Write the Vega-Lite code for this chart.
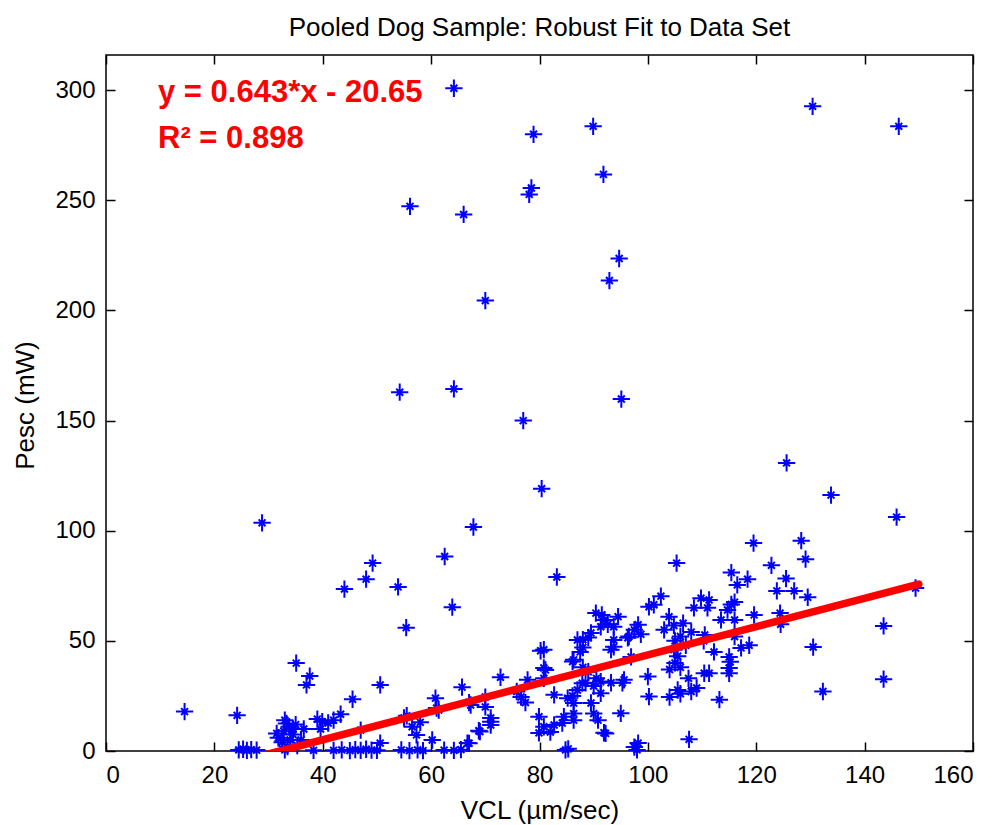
{
  "$schema": "https://vega.github.io/schema/vega-lite/v6.json",
  "width": 867,
  "height": 696,
  "autosize": "none",
  "padding": {"left": 106, "top": 55, "right": 25, "bottom": 74},
  "background": "white",
  "title": {"text": "Pooled Dog Sample: Robust Fit to Data Set", "font": "Liberation Sans", "fontSize": 26, "fontWeight": "normal", "color": "black", "baseline": "alphabetic", "offset": -8, "anchor": "middle"},
  "config": {
    "view": {"stroke": "black", "strokeWidth": 1.5},
    "axis": {"grid": false, "domain": false, "tickColor": "black", "tickSize": -9, "tickWidth": 1.5, "labelFont": "Liberation Sans", "labelFontSize": 24, "labelColor": "black", "titleFont": "Liberation Sans", "titleFontSize": 26, "titleFontWeight": "normal", "titleColor": "black"}
  },
  "datasets": {
    "pts": [
      {"VCL":14.5,"Pesc":17.9},{"VCL":24.2,"Pesc":16.2},{"VCL":28.8,"Pesc":103.6},{"VCL":64.2,"Pesc":300.9},{"VCL":78.9,"Pesc":280},{"VCL":89.9,"Pesc":283.6},{"VCL":130.4,"Pesc":292.7},{"VCL":146.3,"Pesc":283.6},{"VCL":91.8,"Pesc":261.8},{"VCL":78.5,"Pesc":255.6},{"VCL":78.1,"Pesc":252.7},{"VCL":56.1,"Pesc":247.3},{"VCL":66,"Pesc":243.6},{"VCL":94.7,"Pesc":223.6},{"VCL":92.9,"Pesc":213.6},{"VCL":70,"Pesc":204.5},{"VCL":54.2,"Pesc":162.9},{"VCL":64.2,"Pesc":164.4},{"VCL":95.1,"Pesc":159.8},{"VCL":77,"Pesc":150},{"VCL":80.4,"Pesc":119.1},{"VCL":67.8,"Pesc":101.7},{"VCL":125.6,"Pesc":130.8},{"VCL":133.8,"Pesc":116.2},{"VCL":145.9,"Pesc":106.2},{"VCL":119.5,"Pesc":94.4},{"VCL":128.3,"Pesc":95.5},{"VCL":62.5,"Pesc":88.3},{"VCL":83.2,"Pesc":79},{"VCL":105.3,"Pesc":85.3},{"VCL":44,"Pesc":73.5},{"VCL":48,"Pesc":78},{"VCL":49.2,"Pesc":85.3},{"VCL":53.9,"Pesc":74.5},{"VCL":63.9,"Pesc":65.3},{"VCL":55.4,"Pesc":56},
      {"VCL":24.5,"Pesc":0.5},{"VCL":25.3,"Pesc":0.8},{"VCL":26,"Pesc":0.3},{"VCL":26.8,"Pesc":0.6},{"VCL":27.8,"Pesc":0.4},{"VCL":35.1,"Pesc":39.9},{"VCL":37.6,"Pesc":34},{"VCL":37,"Pesc":30},{"VCL":50.6,"Pesc":30},{"VCL":45.5,"Pesc":23.5},{"VCL":43.3,"Pesc":16.7},{"VCL":42,"Pesc":14},{"VCL":39.9,"Pesc":13.3},{"VCL":39.6,"Pesc":10},{"VCL":33,"Pesc":14},{"VCL":31.5,"Pesc":8},{"VCL":32.5,"Pesc":4},{"VCL":34,"Pesc":5},{"VCL":34.5,"Pesc":10},{"VCL":35,"Pesc":12},{"VCL":33.8,"Pesc":11},{"VCL":36.5,"Pesc":10},{"VCL":41,"Pesc":12.7},{"VCL":47,"Pesc":9.5},{"VCL":50.6,"Pesc":3.6},{"VCL":38.3,"Pesc":0.3},{"VCL":42,"Pesc":0.3},{"VCL":43.5,"Pesc":0.5},{"VCL":45,"Pesc":0.2},{"VCL":46,"Pesc":0.6},{"VCL":47,"Pesc":0.3},{"VCL":48,"Pesc":0.8},{"VCL":49,"Pesc":0.4},{"VCL":31.8,"Pesc":6},{"VCL":32.8,"Pesc":9},{"VCL":33.3,"Pesc":12.5},{"VCL":34.5,"Pesc":7.5},{"VCL":35.3,"Pesc":2.5},{"VCL":36,"Pesc":5},{"VCL":33.5,"Pesc":2},{"VCL":33,"Pesc":0.5},{"VCL":39,"Pesc":14.5},
      {"VCL":65.7,"Pesc":29},{"VCL":72.8,"Pesc":33.5},{"VCL":80.2,"Pesc":45.5},{"VCL":80.8,"Pesc":37.7},{"VCL":80.8,"Pesc":33},{"VCL":77.8,"Pesc":32.3},{"VCL":75.8,"Pesc":27},{"VCL":76.6,"Pesc":24.5},{"VCL":77.4,"Pesc":22},{"VCL":60.8,"Pesc":24},{"VCL":61.4,"Pesc":18.6},{"VCL":67.3,"Pesc":20.9},{"VCL":70,"Pesc":24.5},{"VCL":70,"Pesc":20},{"VCL":71,"Pesc":15},{"VCL":71,"Pesc":11.8},{"VCL":68.8,"Pesc":9.2},{"VCL":79.9,"Pesc":15.6},{"VCL":79.9,"Pesc":8.2},{"VCL":80.8,"Pesc":11},{"VCL":55.5,"Pesc":16},{"VCL":56.5,"Pesc":11},{"VCL":57.3,"Pesc":7.3},{"VCL":58,"Pesc":13},{"VCL":60.2,"Pesc":5},{"VCL":67,"Pesc":3.5},{"VCL":50,"Pesc":0.3},{"VCL":54.5,"Pesc":0.5},{"VCL":56,"Pesc":0.2},{"VCL":57.5,"Pesc":0.5},{"VCL":58.5,"Pesc":0.2},{"VCL":62.4,"Pesc":0.4},{"VCL":64.2,"Pesc":0.3},{"VCL":65.5,"Pesc":0.6},{"VCL":55,"Pesc":15},{"VCL":61,"Pesc":19.5},{"VCL":66.7,"Pesc":3.6},{"VCL":69,"Pesc":8.8},{"VCL":67,"Pesc":22},{"VCL":71,"Pesc":13.3},
      {"VCL":86.3,"Pesc":41.4},{"VCL":81.1,"Pesc":36.8},{"VCL":87,"Pesc":50.4},{"VCL":87.5,"Pesc":45},{"VCL":88,"Pesc":47},{"VCL":89,"Pesc":51.5},{"VCL":89.5,"Pesc":53.6},{"VCL":91.3,"Pesc":56.4},{"VCL":92,"Pesc":59.5},{"VCL":92.6,"Pesc":57.5},{"VCL":90.4,"Pesc":62.6},{"VCL":91.5,"Pesc":61.8},{"VCL":93.7,"Pesc":56.4},{"VCL":94.5,"Pesc":61},{"VCL":93.2,"Pesc":46},{"VCL":93.7,"Pesc":50.4},{"VCL":93.7,"Pesc":47.3},{"VCL":86.1,"Pesc":40.6},{"VCL":88,"Pesc":38},{"VCL":89,"Pesc":36},{"VCL":90.5,"Pesc":33},{"VCL":88.5,"Pesc":31},{"VCL":90,"Pesc":29.5},{"VCL":93.2,"Pesc":31},{"VCL":95.3,"Pesc":31},{"VCL":91.3,"Pesc":26.2},{"VCL":87,"Pesc":27.7},{"VCL":85.2,"Pesc":24},{"VCL":86.1,"Pesc":25},{"VCL":100,"Pesc":33.8},{"VCL":100.2,"Pesc":24.7},{"VCL":95.6,"Pesc":32.3},{"VCL":86.3,"Pesc":21.8},{"VCL":86.3,"Pesc":17},{"VCL":86.3,"Pesc":14},{"VCL":89.5,"Pesc":21.8},{"VCL":90,"Pesc":17},{"VCL":90.8,"Pesc":14},{"VCL":95,"Pesc":17.1},{"VCL":84.5,"Pesc":15.6},{"VCL":84.2,"Pesc":12.7},{"VCL":92.2,"Pesc":8},{"VCL":97.5,"Pesc":1.8},{"VCL":98.2,"Pesc":3.6},{"VCL":98,"Pesc":0.5},{"VCL":84.8,"Pesc":0.5},{"VCL":85.3,"Pesc":1},{"VCL":82,"Pesc":8.6},{"VCL":82.7,"Pesc":11.8},{"VCL":82.7,"Pesc":25.5},{"VCL":91.3,"Pesc":31.5},{"VCL":87.9,"Pesc":30.8},{"VCL":96.9,"Pesc":42.7},{"VCL":96.5,"Pesc":52},{"VCL":97.5,"Pesc":55},{"VCL":98.7,"Pesc":53},{"VCL":96.3,"Pesc":51.4},{"VCL":98.2,"Pesc":57.3},{"VCL":88,"Pesc":50.5},{"VCL":91.9,"Pesc":8.3},{"VCL":80.8,"Pesc":46},
      {"VCL":102.4,"Pesc":70.3},{"VCL":100.2,"Pesc":65.5},{"VCL":101.1,"Pesc":66.4},{"VCL":109.8,"Pesc":69.4},{"VCL":108.5,"Pesc":65},{"VCL":111,"Pesc":65},{"VCL":103.9,"Pesc":61},{"VCL":103,"Pesc":55},{"VCL":104.8,"Pesc":57},{"VCL":105,"Pesc":50},{"VCL":106,"Pesc":52},{"VCL":104,"Pesc":37},{"VCL":105,"Pesc":40},{"VCL":104.8,"Pesc":46},{"VCL":105.5,"Pesc":27.7},{"VCL":110.4,"Pesc":35.3},{"VCL":104,"Pesc":24.5},{"VCL":106,"Pesc":26},{"VCL":108,"Pesc":27},{"VCL":109,"Pesc":28.6},{"VCL":113.2,"Pesc":23.3},{"VCL":111.3,"Pesc":35.3},{"VCL":115,"Pesc":35.3},{"VCL":115,"Pesc":37.7},{"VCL":115.2,"Pesc":40.5},{"VCL":115,"Pesc":42.7},{"VCL":112.2,"Pesc":45},{"VCL":116,"Pesc":52},{"VCL":118.7,"Pesc":48},{"VCL":117.2,"Pesc":46.8},{"VCL":110.3,"Pesc":50},{"VCL":110.5,"Pesc":52.7},{"VCL":113.5,"Pesc":59.5},{"VCL":116,"Pesc":59.5},{"VCL":114.7,"Pesc":64},{"VCL":115.4,"Pesc":66.5},{"VCL":116,"Pesc":67.6},{"VCL":111.3,"Pesc":68.6},{"VCL":119.6,"Pesc":61.8},{"VCL":124.4,"Pesc":62.6},{"VCL":124.5,"Pesc":57.5},{"VCL":129.5,"Pesc":69.8},{"VCL":127,"Pesc":72.7},{"VCL":123.8,"Pesc":72.7},{"VCL":125.5,"Pesc":78.3},{"VCL":116.5,"Pesc":75.4},{"VCL":118.4,"Pesc":78},{"VCL":115.4,"Pesc":81},{"VCL":122.8,"Pesc":84.3},{"VCL":129.1,"Pesc":87.1},{"VCL":130.5,"Pesc":47.2},{"VCL":132.3,"Pesc":27},{"VCL":143.5,"Pesc":32.6},{"VCL":143.5,"Pesc":56.8},{"VCL":149.4,"Pesc":74},{"VCL":107.6,"Pesc":5.3},{"VCL":105.5,"Pesc":43},{"VCL":106.5,"Pesc":58},{"VCL":107,"Pesc":48},{"VCL":108,"Pesc":54},{"VCL":106,"Pesc":38},{"VCL":107.5,"Pesc":33}
    ],
    "fit": [{"VCL": 30, "Pesc": -1.36}, {"VCL": 150, "Pesc": 75.8}],
    "ann": [{"VCL": 9.6, "Pesc": 294.8, "label": "y = 0.643*x - 20.65"}, {"VCL": 9.6, "Pesc": 273.6, "label": "R² = 0.898"}]
  },
  "layer": [
    {
      "data": {"name": "pts"},
      "mark": {"type": "point", "shape": "M-1,0L1,0M0,-1L0,1M-0.4,-0.4L0.4,0.4M-0.4,0.4L0.4,-0.4", "filled": false, "strokeWidth": 2, "size": 300, "color": "#0000ff", "opacity": 1},
      "encoding": {
        "x": {"field": "VCL", "type": "quantitative", "scale": {"domain": [0, 160], "nice": false, "zero": false}, "axis": {"values": [0, 20, 40, 60, 80, 100, 120, 140, 160], "labelPadding": 21, "title": "VCL (µm/sec)", "titleBaseline": "alphabetic", "titleY": 67, "titleX": 433.5, "titleAnchor": "middle", "titleAlign": "center"}},
        "y": {"field": "Pesc", "type": "quantitative", "scale": {"domain": [0, 316], "nice": false, "zero": false}, "axis": {"values": [0, 50, 100, 150, 200, 250, 300], "labelPadding": 20, "title": "Pesc (mW)", "titleAngle": -90, "titleBaseline": "alphabetic", "titleAlign": "center", "titleX": -73, "titleY": 350}}
      }
    },
    {
      "data": {"name": "fit"},
      "mark": {"type": "line", "color": "#ff0000", "strokeWidth": 7.5, "strokeCap": "round", "clip": true},
      "encoding": {
        "x": {"field": "VCL", "type": "quantitative", "axis": {"orient": "top", "values": [0, 20, 40, 60, 80, 100, 120, 140, 160], "labels": false, "title": null}},
        "y": {"field": "Pesc", "type": "quantitative", "axis": {"orient": "right", "values": [0, 50, 100, 150, 200, 250, 300], "labels": false, "title": null}}
      }
    },
    {
      "data": {"name": "ann"},
      "mark": {"type": "text", "align": "left", "baseline": "alphabetic", "font": "Liberation Sans", "fontSize": 31, "fontWeight": "bold", "color": "#ff0000"},
      "encoding": {
        "x": {"field": "VCL", "type": "quantitative", "axis": null},
        "y": {"field": "Pesc", "type": "quantitative", "axis": null},
        "text": {"field": "label"}
      }
    }
  ],
  "resolve": {"axis": {"x": "independent", "y": "independent"}}
}
